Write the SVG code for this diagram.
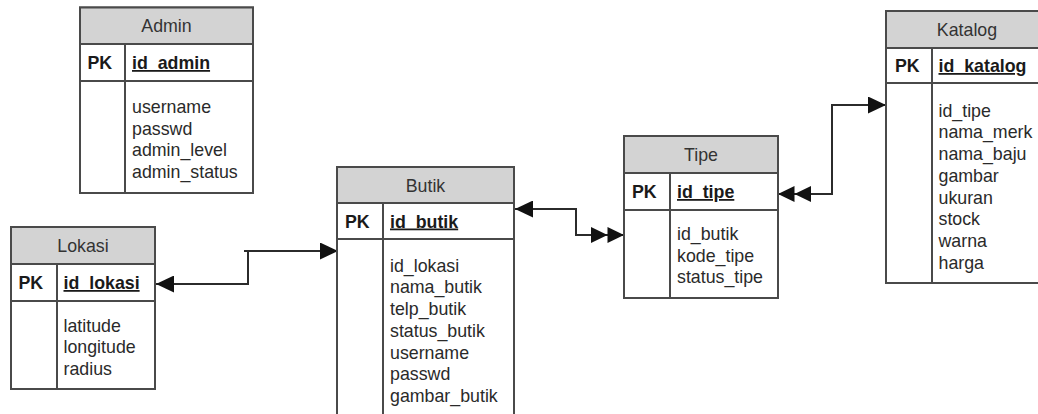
<svg xmlns="http://www.w3.org/2000/svg" width="1038" height="414" viewBox="0 0 1038 414">
  <style>
    .frame { fill: #ffffff; stroke: #4a4a4a; stroke-width: 2; }
    .head { fill: #d3d3d3; stroke: #4a4a4a; stroke-width: 2; }
    .rule { stroke: #4a4a4a; stroke-width: 2; fill: none; }
    text { font-family: "Liberation Sans", Arial, sans-serif; font-size: 17.8px; fill: #2a2a2a; }
    .title { text-anchor: middle; fill: #333333; }
    .pk { font-weight: bold; fill: #1a1a1a; }
    .key { font-weight: bold; fill: #1a1a1a; text-decoration: underline; }
    .link { fill: none; stroke: #2b2b2b; stroke-width: 2; }
    .tip { fill: #111111; }
  </style>
  <defs>
    <marker id="one" markerUnits="userSpaceOnUse" markerWidth="18" markerHeight="17" viewBox="0 0 18 17" refX="18" refY="8.5" orient="auto-start-reverse">
      <path class="tip" d="M0,0 L18,8.5 L0,17 Z"/>
    </marker>
    <marker id="many" markerUnits="userSpaceOnUse" markerWidth="33" markerHeight="16" viewBox="0 0 33 16" refX="33" refY="8" orient="auto-start-reverse">
      <path class="tip" d="M0,0 L16.5,8 L0,16 Z M16.5,0 L33,8 L16.5,16 Z"/>
    </marker>
  </defs>

  <!-- relationships -->
  <g id="connectors">
    <path class="link" d="M248,251 V284 H156" marker-end="url(#one)"/>
    <path class="link" d="M244,251 H338" marker-end="url(#one)"/>
    <path class="link" d="M515,209 H576 V235 H624" marker-start="url(#one)" marker-end="url(#many)"/>
    <path class="link" d="M778,194 H832 V105 H886" marker-start="url(#many)" marker-end="url(#one)"/>
  </g>

  <g id="admin">
    <rect class="frame" x="80" y="7.5" width="173" height="185.5"/>
    <rect class="head" x="80" y="7.5" width="173" height="36.5"/>
    <path class="rule" d="M80,81 H253 M125,44 V193"/>
    <text class="title" x="166.5" y="32">Admin</text>
    <text class="pk" x="87.5" y="69">PK</text>
    <text class="key" x="132" y="69">id_admin</text>
    <text x="132" y="113">username<tspan x="132" dy="21.7">passwd</tspan><tspan x="132" dy="21.7">admin_level</tspan><tspan x="132" dy="21.7">admin_status</tspan></text>
  </g>

  <g id="lokasi">
    <rect class="frame" x="11" y="227" width="144" height="162"/>
    <rect class="head" x="11" y="227" width="144" height="37"/>
    <path class="rule" d="M11,301 H155 M57,264 V389"/>
    <text class="title" x="83" y="252">Lokasi</text>
    <text class="pk" x="18.5" y="289">PK</text>
    <text class="key" x="63.5" y="289">id_lokasi</text>
    <text x="63.5" y="331.7">latitude<tspan x="63.5" dy="21.7">longitude</tspan><tspan x="63.5" dy="21.7">radius</tspan></text>
  </g>

  <g id="butik">
    <rect class="frame" x="337" y="167" width="177" height="260"/>
    <rect class="head" x="337" y="167" width="177" height="36"/>
    <path class="rule" d="M337,239 H514 M383,203 V427"/>
    <text class="title" x="425.5" y="191.5">Butik</text>
    <text class="pk" x="345" y="227.5">PK</text>
    <text class="key" x="390" y="227.5">id_butik</text>
    <text x="390" y="271.7">id_lokasi<tspan x="390" dy="21.7">nama_butik</tspan><tspan x="390" dy="21.7">telp_butik</tspan><tspan x="390" dy="21.7">status_butik</tspan><tspan x="390" dy="21.7">username</tspan><tspan x="390" dy="21.7">passwd</tspan><tspan x="390" dy="21.7">gambar_butik</tspan></text>
  </g>

  <g id="tipe">
    <rect class="frame" x="624" y="136" width="154" height="162"/>
    <rect class="head" x="624" y="136" width="154" height="37"/>
    <path class="rule" d="M624,210 H778 M670,173 V298"/>
    <text class="title" x="701" y="161">Tipe</text>
    <text class="pk" x="632" y="198">PK</text>
    <text class="key" x="677" y="198">id_tipe</text>
    <text x="677" y="240">id_butik<tspan x="677" dy="21.7">kode_tipe</tspan><tspan x="677" dy="21.7">status_tipe</tspan></text>
  </g>

  <g id="katalog">
    <rect class="frame" x="886" y="11" width="162" height="272"/>
    <rect class="head" x="886" y="11" width="162" height="37"/>
    <path class="rule" d="M886,83 H1048 M932,48 V283"/>
    <text class="title" x="967" y="36">Katalog</text>
    <text class="pk" x="895" y="72">PK</text>
    <text class="key" x="938.5" y="72">id_katalog</text>
    <text x="938.5" y="116.7">id_tipe<tspan x="938.5" dy="21.7">nama_merk</tspan><tspan x="938.5" dy="21.7">nama_baju</tspan><tspan x="938.5" dy="21.7">gambar</tspan><tspan x="938.5" dy="21.7">ukuran</tspan><tspan x="938.5" dy="21.7">stock</tspan><tspan x="938.5" dy="21.7">warna</tspan><tspan x="938.5" dy="21.7">harga</tspan></text>
  </g>
</svg>
